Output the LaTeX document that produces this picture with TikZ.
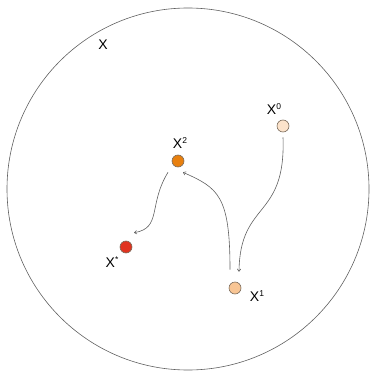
\documentclass[tikz,border=0pt]{standalone}
\usepackage{fontspec}
\setmainfont{Liberation Sans}
\usetikzlibrary{arrows.meta}
\definecolor{dotA}{HTML}{FCE3CB}
\definecolor{dotB}{HTML}{F8C594}
\definecolor{dotC}{HTML}{E8800F}
\definecolor{dotD}{HTML}{E03420}
\definecolor{edge}{HTML}{7A6A5A}
\definecolor{arr}{HTML}{606060}
\newcommand{\supx}[1]{\raisebox{5.5pt}{\fontsize{8.5}{9}\selectfont #1}}
\tikzset{
  dot/.style={circle,draw=edge,line width=0.6pt,minimum size=12pt,inner sep=0pt},
  lbl/.style={font=\fontsize{14}{16}\selectfont,inner sep=0pt},
  flow/.style={draw=arr,line width=0.6pt,-{To[length=3pt,width=4pt]}}
}
\begin{document}
\begin{tikzpicture}[x=1pt,y=-1pt]
\useasboundingbox (0,0) rectangle (369,371);
\draw[draw=arr,line width=0.6pt] (188,189) circle[radius=181];
\node[lbl] (xl) at (103,45) {X};
\node[dot,fill=dotA] (x0) at (283,126) {};
\node[dot,fill=dotB] (x1) at (235,288) {};
\node[dot,fill=dotC] (x2) at (178,161) {};
\node[dot,fill=dotD] (xs) at (126,247) {};
\node[lbl] (l0) at (274,109) {X\supx{0}};
\node[lbl] (l1) at (257,296) {X\supx{1}};
\node[lbl] (l2) at (180,143) {X\supx{2}};
\node[lbl] (ls) at (112,262) {X\supx{*}};
\draw[flow] ([yshift=-5pt]x0.south) .. controls (286,220) and (240,200) .. ([xshift=4pt,yshift=10pt]x1.north);
\draw[flow] ([xshift=-5pt,yshift=12pt]x1.north) .. controls (230,195) and (218,188) .. ([xshift=5pt,yshift=-5pt]x2.south);
\draw[flow] ([xshift=-10pt,yshift=-5pt]x2.south) .. controls (148,205) and (162,228) .. ([xshift=8pt,yshift=8pt]xs.north);
\end{tikzpicture}
\end{document}
